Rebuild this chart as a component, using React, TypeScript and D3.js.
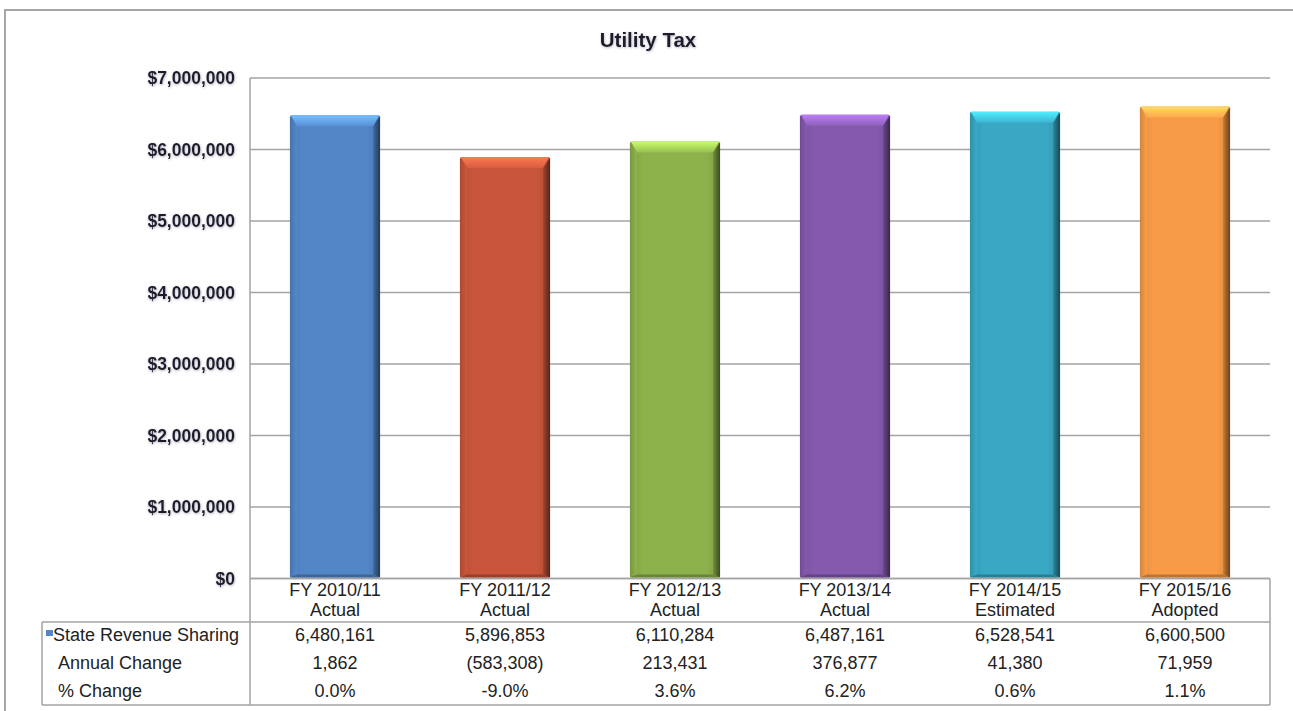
import React from "react";
import * as d3 from "d3";

const categories = ["FY 2010/11", "FY 2011/12", "FY 2012/13", "FY 2013/14", "FY 2014/15", "FY 2015/16"];
const categoryStatus = ["Actual", "Actual", "Actual", "Actual", "Estimated", "Adopted"];
const revenueValues = [6480161, 5896853, 6110284, 6487161, 6528541, 6600500];
const annualChange = ["1,862", "(583,308)", "213,431", "376,877", "41,380", "71,959"];
const pctChange = ["0.0%", "-9.0%", "3.6%", "6.2%", "0.6%", "1.1%"];
const rowLabels = ["State Revenue Sharing", "Annual Change", "% Change"];
const yTicks = [0, 1000000, 2000000, 3000000, 4000000, 5000000, 6000000, 7000000];
const barColors = ["#5386C7", "#C9563A", "#8DB14B", "#8459AE", "#38A8C4", "#F89B46"];

const W = 1293;
const H = 711;
const plotL = 250;
const plotR = 1270;
const plotT = 78;
const plotB = 578.5;
const tableL = 42;
const headerBottom = 622;
const tableB = 705;

export default function App() {
  const y = d3.scaleLinear().domain([0, 7000000]).range([plotB, plotT]);
  const x = d3.scaleBand<string>().domain(categories).range([plotL, plotR]).paddingInner(0.47).paddingOuter(0.235);
  const fmtTick = (v: number) => "$" + d3.format(",")(v);
  const fmtVal = d3.format(",");
  const font = "Arial, 'Liberation Sans', sans-serif";
  const tfs = 18;

  return (
    <div style={{ position: "absolute", left: 0, top: 0 }}>
      <svg width={W} height={H} style={{ display: "block", background: "#fff" }}>
        <defs>
          <filter id="tshadow" x="-10%" y="-30%" width="120%" height="160%">
            <feDropShadow dx="0.5" dy="0.8" stdDeviation="0.8" floodColor="#8a8aa0" floodOpacity="0.7" />
          </filter>
          {barColors.map((c, i) => {
            const base = d3.color(c)!;
            return (
              <g key={i}>
                <linearGradient id={`body${i}`} x1="0" x2="1" y1="0" y2="0">
                  <stop offset="0" stopColor={base.darker(0.25).formatHex()} />
                  <stop offset="0.15" stopColor={c} />
                  <stop offset="0.85" stopColor={c} />
                  <stop offset="1" stopColor={base.darker(0.35).formatHex()} />
                </linearGradient>
                <linearGradient id={`top${i}`} x1="0" x2="0" y1="0" y2="1">
                  <stop offset="0" stopColor={base.brighter(1.0).formatHex()} />
                  <stop offset="1" stopColor={base.brighter(0.2).formatHex()} />
                </linearGradient>
                <linearGradient id={`right${i}`} x1="0" x2="1" y1="0" y2="0">
                  <stop offset="0" stopColor={base.darker(0.6).formatHex()} />
                  <stop offset="1" stopColor={base.darker(2.4).formatHex()} />
                </linearGradient>
                <linearGradient id={`left${i}`} x1="0" x2="1" y1="0" y2="0">
                  <stop offset="0" stopColor={base.darker(0.5).formatHex()} />
                  <stop offset="1" stopColor={base.brighter(0.1).formatHex()} />
                </linearGradient>
              </g>
            );
          })}
        </defs>

        {/* outer frame */}
        <rect x={5} y={10} width={1300} height={720} fill="none" stroke="#a6a6a6" strokeWidth={2} />

        {/* title */}
        <text x={648} y={47} textAnchor="middle" fontFamily={font} fontWeight="bold" fontSize={20.5} fill="#1a1a2a" filter="url(#tshadow)">
          Utility Tax
        </text>

        {/* gridlines */}
        {yTicks.map((t) => (
          <line key={t} x1={plotL} x2={plotR} y1={y(t)} y2={y(t)} stroke="#a3a3a3" strokeWidth={1.5} />
        ))}
        {/* y-axis labels */}
        {yTicks.map((t) => (
          <text key={"l" + t} x={235} y={y(t) + 6} textAnchor="end" fontFamily={font} fontWeight="bold" fontSize={17.5} fill="#1a1a2a" filter="url(#tshadow)">
            {fmtTick(t)}
          </text>
        ))}

        {/* bars */}
        {categories.map((c, i) => {
          const x0 = x(c)!;
          const x1 = x0 + x.bandwidth();
          const y0 = y(revenueValues[i]);
          const y1 = y(0) - 1;
          const s = 7;
          const bt = 11;
          const base = d3.color(barColors[i])!;
          return (
            <g key={c}>
              <rect x={x0} y={y0} width={x1 - x0} height={y1 - y0} fill={`url(#body${i})`} rx={2} />
              <polygon points={`${x0 + 1},${y0} ${x1 - 1},${y0} ${x1 - s},${y0 + bt} ${x0 + s},${y0 + bt}`} fill={`url(#top${i})`} />
              <polygon points={`${x0},${y0 + 1} ${x0 + s},${y0 + bt} ${x0 + s},${y1 - 3} ${x0},${y1}`} fill={`url(#left${i})`} opacity={0.8} />
              <polygon points={`${x1},${y0 + 1} ${x1 - s},${y0 + bt} ${x1 - s},${y1 - 3} ${x1},${y1}`} fill={`url(#right${i})`} />
              <polygon points={`${x0},${y1} ${x0 + s},${y1 - 3} ${x1 - s},${y1 - 3} ${x1},${y1}`} fill={base.darker(0.8).formatHex()} />
            </g>
          );
        })}

        {/* axis and table lines */}
        <line x1={plotL} x2={plotL} y1={plotT} y2={tableB} stroke="#a3a3a3" strokeWidth={1.5} />
        <line x1={plotL} x2={plotR} y1={plotB} y2={plotB} stroke="#a3a3a3" strokeWidth={1.5} />
        <line x1={tableL} x2={plotR} y1={headerBottom} y2={headerBottom} stroke="#a3a3a3" strokeWidth={1.5} />
        <line x1={tableL} x2={plotR} y1={tableB} y2={tableB} stroke="#a3a3a3" strokeWidth={1.5} />
        <line x1={tableL} x2={tableL} y1={headerBottom} y2={tableB} stroke="#a3a3a3" strokeWidth={1.5} />
        <line x1={plotR} x2={plotR} y1={plotB} y2={tableB} stroke="#a3a3a3" strokeWidth={1.5} />

        {/* header labels and values */}
        {categories.map((c, i) => {
          const cx = x(c)! + x.bandwidth() / 2;
          return (
            <g key={"h" + c} fontFamily={font} fontSize={tfs} fill="#222" textAnchor="middle">
              <text x={cx} y={596}>{c}</text>
              <text x={cx} y={616}>{categoryStatus[i]}</text>
              <text x={cx} y={641}>{fmtVal(revenueValues[i])}</text>
              <text x={cx} y={669}>{annualChange[i]}</text>
              <text x={cx} y={697}>{pctChange[i]}</text>
            </g>
          );
        })}

        {/* row labels */}
        <rect x={46} y={630} width={7} height={6} fill={barColors[0]} />
        <g fontFamily={font} fontSize={tfs} fill="#222">
          <text x={53} y={641}>{rowLabels[0]}</text>
          <text x={58} y={669}>{rowLabels[1]}</text>
          <text x={58} y={697}>{rowLabels[2]}</text>
        </g>
      </svg>
    </div>
  );
}
